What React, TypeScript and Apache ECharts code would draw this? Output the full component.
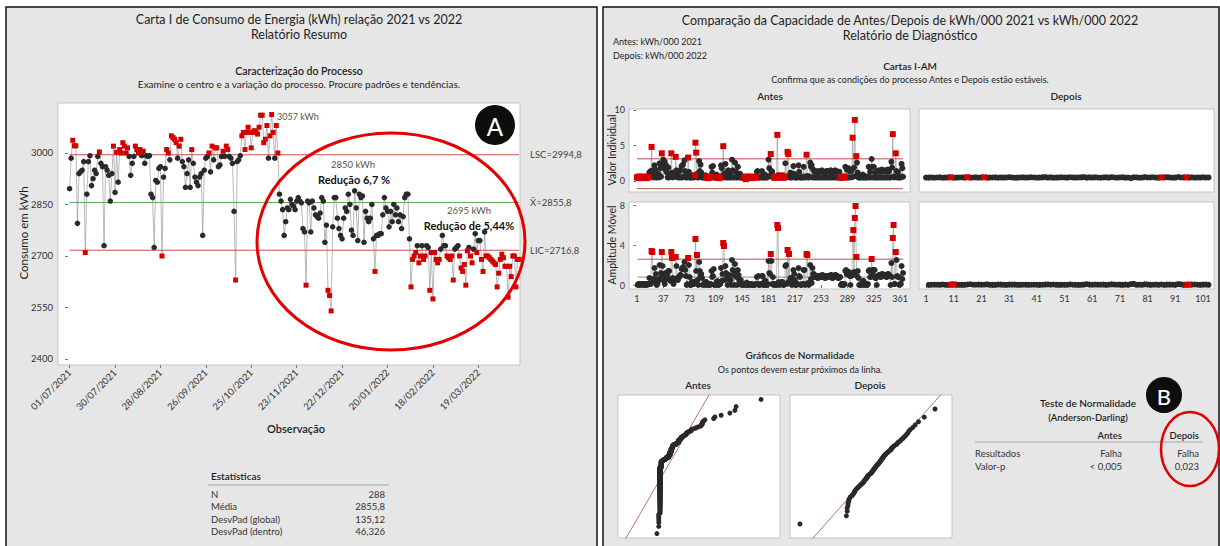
import React, { useEffect, useRef } from "react";
import * as echarts from "echarts";

const FONT = "Lato, 'Noto Sans', sans-serif";

// ---------- Left panel data ----------
const dateLabels = ["01/07/2021", "30/07/2021", "28/08/2021", "26/09/2021", "25/10/2021", "23/11/2021", "22/12/2021", "20/01/2022", "18/02/2022", "19/03/2022"];
const dateTickObs = [1, 30, 59, 88, 117, 146, 175, 204, 233, 262];
const yTicksConsumo = [2400, 2550, 2700, 2850, 3000];
const consumo = [
  2896, 2985, 3037, 3021, 3021, 2795, 2940, 2945, 2950, 2975, 2710, 2880, 2975, 2992, 2905, 2925, 2950, 2940, 2990, 3003, 2970, 2960, 2730, 2960, 2950, 2935, 2860, 2940, 3020,
  2885, 3002, 2915, 3010, 3000, 3030, 3020, 3000, 3015, 2990, 2935, 2970, 2990, 3020, 3010, 3000, 3010, 2992, 3005, 2970, 2992, 2990, 2992, 2880, 2870, 2725, 2920, 2915, 2955,
  2960, 2700, 2930, 2955, 3010, 3000, 2980, 3050, 3045, 3040, 3030, 2985, 3020, 3040, 2975, 2960, 2900, 2940, 2980, 2900, 3010, 2970, 2930, 2915, 2905, 2930, 2940, 2760, 2950,
  2985, 2990, 3000, 2945, 3020, 2980, 3015, 3015, 2960, 2965, 2990, 3005, 2990, 3020, 3010, 2990, 2985, 2970, 2830, 2630, 2975, 2980, 2992, 3050, 3060, 3010, 3060, 3075, 3060,
  3015, 3060, 3065, 3060, 3055, 3075, 3110, 3110, 3030, 3040, 3080, 2985, 3050, 3112, 3060, 2985, 3080, 3000, 2880, 2860, 2835, 2760, 2800, 2840, 2835, 2865, 2850, 2845, 2835,
  2860, 2870, 2860, 2855, 2780, 2770, 2615, 2860, 2855, 2770, 2860, 2840, 2820, 2815, 2810, 2825, 2870, 2860, 2740, 2790, 2600, 2585, 2540, 2785, 2870, 2870, 2810, 2780, 2760,
  2750, 2810, 2840, 2830, 2880, 2850, 2775, 2760, 2890, 2840, 2745, 2880, 2870, 2875, 2740, 2830, 2810, 2800, 2810, 2850, 2750, 2655, 2760, 2760, 2765, 2765, 2820, 2870, 2840,
  2830, 2785, 2830, 2800, 2850, 2820, 2840, 2800, 2820, 2780, 2815, 2870, 2880, 2880, 2750, 2610, 2690, 2700, 2710, 2730, 2680, 2700, 2730, 2690, 2700, 2730, 2725, 2600, 2710,
  2575, 2710, 2690, 2680, 2690, 2720, 2760, 2730, 2730, 2700, 2695, 2690, 2700, 2630, 2720, 2725, 2730, 2700, 2665, 2655, 2675, 2615, 2715, 2725, 2700, 2680, 2720, 2765, 2710,
  2745, 2745, 2690, 2655, 2770, 2700, 2700, 2695, 2690, 2685, 2680, 2675, 2610, 2650, 2690, 2705, 2695, 2670, 2670, 2580, 2670, 2640, 2700, 2700, 2610, 2690, 2690,
];
const LSC = 2994.8;
const CL = 2855.8;
const LIC = 2716.8;
const controlLabels = ["LSC=2994,8", "X\u0304=2855,8", "LIC=2716,8"];
const statsRows = [["N", "288"], ["Média", "2855,8"], ["DesvPad (global)", "135,12"], ["DesvPad (dentro)", "46,326"]];

// ---------- Right panel data ----------
const antesI = [
  0.5, 0.5, 0.6, 0.5, 0.5, 0.4, 0.5, 0.5, 0.6, 0.5, 0.5, 0.5, 0.4, 0.5, 0.5, 0.6, 0.5, 1.2, 1.3, 1.4,
  4.8, 1.5, 0.9, 0.5, 2.2, 1.6, 0.5, 0.5, 0.6, 1.0, 0.5, 2.5, 1.8, 0.6, 3.9, 2.0, 3.0, 2.6, 2.7, 1.5,
  2.2, 1.2, 0.5, 1.9, 0.5, 1.0, 0.6, 3.9, 1.2, 0.5, 0.6, 1.2, 0.6, 3.4, 1.5, 1.0, 0.5, 1.3, 0.5, 1.5,
  0.5, 2.1, 0.5, 2.3, 0.6, 2.9, 1.4, 0.5, 0.5, 0.6, 3.3, 1.3, 0.5, 0.5, 0.5, 0.8, 0.5, 0.6, 0.5, 0.8,
  5.4, 4.0, 1.0, 0.5, 0.5, 2.8, 1.4, 2.3, 1.2, 0.5, 0.5, 0.6, 0.5, 0.5, 0.8, 0.5, 0.5, 0.4, 0.5, 0.5,
  0.5, 0.6, 2.0, 1.2, 2.1, 0.5, 0.5, 0.5, 0.6, 0.9, 0.5, 0.5, 0.5, 0.4, 0.5, 2.2, 1.8, 0.7, 4.9, 1.0,
  0.5, 2.4, 1.2, 0.5, 0.5, 1.5, 0.5, 1.0, 0.5, 0.5, 3.0, 1.5, 0.5, 0.5, 2.6, 1.3, 0.5, 0.5, 2.0, 1.0,
  0.5, 1.0, 0.5, 0.5, 0.6, 0.5, 0.5, 0.5, 0.4, 0.25, 0.5, 0.5, 0.5, 0.6, 0.5, 0.5, 0.4, 0.5, 0.5, 0.5,
  0.5, 0.5, 0.6, 0.5, 1.3, 1.4, 0.5, 0.5, 0.5, 0.6, 0.5, 1.4, 0.5, 0.5, 0.5, 0.9, 0.5, 0.5, 0.5, 0.6,
  3.0, 1.8, 0.7, 3.8, 1.4, 1.3, 0.5, 0.5, 0.6, 0.5, 0.5, 0.5, 6.5, 0.8, 0.5, 0.5, 0.6, 0.5, 0.8, 0.5,
  0.5, 0.5, 0.6, 2.5, 0.5, 0.6, 4.1, 3.8, 0.7, 0.5, 1.2, 0.5, 0.5, 0.6, 2.1, 1.0, 0.5, 0.5, 0.5, 0.6,
  0.5, 2.2, 1.3, 0.5, 0.5, 0.5, 0.6, 0.5, 2.0, 0.5, 0.5, 0.6, 3.7, 0.7, 0.5, 0.5, 0.6, 2.6, 2.0, 2.2,
  0.5, 1.6, 0.5, 1.3, 0.5, 1.4, 0.5, 1.2, 0.5, 1.4, 0.5, 1.3, 0.5, 1.5, 0.5, 1.3, 0.5, 1.2, 0.5, 1.4,
  0.5, 1.4, 0.5, 1.3, 0.5, 1.5, 0.5, 1.2, 0.5, 1.3, 0.5, 1.5, 0.5, 1.4, 0.5, 1.2, 0.5, 1.3, 0.5, 0.5,
  0.6, 0.5, 0.5, 0.5, 0.6, 2.0, 0.5, 1.6, 0.5, 1.8, 0.5, 1.4, 1.4, 0.5, 1.5, 6.1, 0.6, 1.9, 8.6, 0.7,
  3.5, 2.6, 1.2, 0.5, 0.5, 0.5, 0.6, 0.5, 0.5, 0.9, 0.5, 0.5, 0.6, 0.5, 0.5, 0.5, 0.6, 2.0, 0.5, 1.3,
  0.5, 3.1, 2.0, 0.5, 2.0, 0.5, 1.2, 0.5, 0.5, 1.4, 0.5, 1.5, 0.5, 1.3, 0.5, 1.6, 0.5, 1.4, 0.5, 1.5,
  0.5, 1.3, 0.5, 1.6, 0.5, 1.4, 0.5, 0.5, 2.7, 1.9, 6.6, 0.6, 0.5, 0.6, 3.9, 1.4, 0.5, 1.3, 0.5, 0.5,
  0.6, 0.5, 2.4, 1.8, 0.6,
];
const antesFailRanges = [[1, 17], [80, 80], [96, 102], [111, 115], [147, 164], [188, 192], [198, 203], [279, 285]];
const antesLimitsI = { ucl: 3.12, cl: 1.02, lcl: -1.08 };
const antesLimitsMR = { ucl: 2.58, cl: 0.79 };
const depoisI = [
  0.487, 0.478, 0.502, 0.468, 0.493, 0.511, 0.461, 0.482, 0.498, 0.521,
  0.46, 0.472, 0.491, 0.505, 0.484, 0.532, 0.459, 0.489, 0.514, 0.47,
  0.5, 0.524, 0.462, 0.48, 0.494, 0.509, 0.466, 0.503, 0.486, 0.492,
  0.535, 0.497, 0.458, 0.474, 0.49, 0.516, 0.483, 0.501, 0.527, 0.495,
  0.469, 0.481, 0.506, 0.541, 0.488, 0.512, 0.461, 0.479, 0.499, 0.519,
  0.493, 0.473, 0.529, 0.504, 0.485, 0.496, 0.513, 0.552, 0.471, 0.507,
  0.482, 0.523, 0.49, 0.46, 0.5, 0.51, 0.477, 0.538, 0.494, 0.467,
  0.503, 0.518, 0.476, 0.492, 0.402, 0.515, 0.498, 0.465, 0.484, 0.545,
  0.489, 0.501, 0.526, 0.48, 0.459, 0.508, 0.495, 0.533, 0.497, 0.463,
  0.479, 0.565, 0.505, 0.491, 0.512, 0.475, 0.52, 0.468, 0.502, 0.488,
  0.53, 0.483, 0.499,
];
const depoisIFail = [10, 16, 22, 86, 95];
const depoisMRFail = [10, 11, 95, 96];
const antesTicks = [1, 37, 73, 109, 145, 181, 217, 253, 289, 325, 361];
const depoisTicks = [1, 11, 21, 31, 41, 51, 61, 71, 81, 91, 101];
const iTicks = [0, 5, 10];
const mrTicks = [0, 4, 8];
const adRows = [["Resultados", "Falha", "Falha"], ["Valor-p", "< 0,005", "0,023"]];

// ---------- helpers ----------
function invNorm(p: number) {
  const a = [-39.69683028665376, 220.9460984245205, -275.9285104469687, 138.357751867269, -30.66479806614716, 2.506628277459239];
  const b = [-54.47609879822406, 161.5858368580409, -155.6989798598866, 66.80131188771972, -13.28068155288572];
  const c = [-0.007784894002430293, -0.3223964580411365, -2.400758277161838, -2.549671607777327, 4.374664141464968, 2.938163982698783];
  const d = [0.007784695709041462, 0.3224671290700398, 2.445134137142996, 3.754408661907416];
  const pl = 0.02425;
  if (p < pl) {
    const q = Math.sqrt(-2 * Math.log(p));
    return (((((c[0] * q + c[1]) * q + c[2]) * q + c[3]) * q + c[4]) * q + c[5]) / ((((d[0] * q + d[1]) * q + d[2]) * q + d[3]) * q + 1);
  }
  if (p > 1 - pl) {
    const q = Math.sqrt(-2 * Math.log(1 - p));
    return -(((((c[0] * q + c[1]) * q + c[2]) * q + c[3]) * q + c[4]) * q + c[5]) / ((((d[0] * q + d[1]) * q + d[2]) * q + d[3]) * q + 1);
  }
  const q = p - 0.5;
  const r = q * q;
  return ((((((a[0] * r + a[1]) * r + a[2]) * r + a[3]) * r + a[4]) * r + a[5]) * q) / (((((b[0] * r + b[1]) * r + b[2]) * r + b[3]) * r + b[4]) * r + 1);
}

function normalPlot(vals: number[]) {
  const s = [...vals].sort((x, y) => x - y);
  const n = s.length;
  const pts = s.map((v, i) => [v, invNorm((i + 1 - 0.375) / (n + 0.25))]);
  const mean = s.reduce((acc, v) => acc + v, 0) / n;
  const sd = Math.sqrt(s.reduce((acc, v) => acc + (v - mean) ** 2, 0) / (n - 1));
  return { pts, line: [[mean - 4 * sd, -4], [mean + 4 * sd, 4]] };
}

const T = (text: string, x: number, y: number, size: number, o: any = {}) => ({
  type: "text",
  x,
  y,
  rotation: o.rot || 0,
  z: o.z || 50,
  silent: true,
  style: {
    text,
    fill: o.color || "#1f1f1f",
    font: `${o.weight || "normal"} ${size}px ${FONT}`,
    textAlign: o.align || "center",
    textVerticalAlign: "middle",
  },
});

function buildOption() {
  const gridBoxes = [
    { left: 58, top: 103, width: 462, height: 262 },
    { left: 629, top: 109, width: 281, height: 83 },
    { left: 919, top: 109, width: 295, height: 83 },
    { left: 629, top: 202, width: 281, height: 87 },
    { left: 919, top: 202, width: 295, height: 87 },
    { left: 618, top: 395, width: 162, height: 143 },
    { left: 790, top: 395, width: 162, height: 143 },
  ];
  const grid = gridBoxes.map((g) => ({
    ...g,
    show: true,
    backgroundColor: "#ffffff",
    borderColor: "#c4c4c4",
    borderWidth: 1,
    containLabel: false,
    outerBoundsMode: "none",
  }));

  const axisBase = (gridIndex: number, min: number, max: number) => ({
    gridIndex,
    type: "value",
    min,
    max,
    axisLine: { show: false },
    splitLine: { show: false },
    axisTick: { show: false },
    axisLabel: { show: false },
  });
  const plain = (v: number) => String(v);
  const labelled = (base: any, ticks: number[], extra: any = {}) => ({
    ...base,
    axisTick: { show: true, customValues: ticks, length: 3, lineStyle: { color: "#777" } },
    axisLabel: { show: true, customValues: ticks, fontSize: 9, color: "#333", fontFamily: FONT, formatter: plain, ...extra },
  });

  const xAxis = [
    labelled(axisBase(0, -6.4, 288.6), dateTickObs, {
      rotate: 45,
      margin: 6,
      fontSize: 9.5,
      formatter: (v: number) => {
        const i = dateTickObs.indexOf(Math.round(v));
        return i >= 0 ? dateLabels[i] : "";
      },
    }),
    axisBase(1, -9.9, 374.5),
    axisBase(2, -1.53, 104.97),
    labelled(axisBase(3, -9.9, 374.5), antesTicks, { margin: 5 }),
    labelled(axisBase(4, -1.53, 104.97), depoisTicks, { margin: 5 }),
    axisBase(5, -2.87, 10.12),
    axisBase(6, 0.39, 0.5855),
  ];
  const yAxis = [
    labelled(axisBase(0, 2382.5, 3145.6), yTicksConsumo, { margin: 5, fontSize: 9.5 }),
    labelled(axisBase(1, -1.55, 10.14), iTicks, { margin: 4 }),
    axisBase(2, -1.55, 10.14),
    labelled(axisBase(3, -0.4, 8.3), mrTicks, { margin: 4 }),
    axisBase(4, -0.4, 8.3),
    axisBase(5, -3.12, 3.12),
    axisBase(6, -3.12, 3.12),
  ];

  const RED = "#d40000";
  const DOT = "#2a2a2a";
  const series: any[] = [];
  const conn = (gi: number, pts: number[][]) =>
    series.push({ type: "line", xAxisIndex: gi, yAxisIndex: gi, data: pts, showSymbol: false, symbol: "none", lineStyle: { color: "#9b9b9b", width: 0.7 }, z: 2, silent: true });
  const ctrl = (gi: number, x0: number, x1: number, v: number, color: string, label?: string) =>
    series.push({
      type: "line",
      xAxisIndex: gi,
      yAxisIndex: gi,
      data: [[x0, v], [x1, v]],
      symbol: "none",
      lineStyle: { color, width: 1 },
      z: 3,
      silent: true,
      endLabel: label ? { show: true, formatter: label, distance: 11, color: "#444", fontSize: 9.5, fontFamily: FONT } : { show: false },
    });
  const pts = (gi: number, data: number[][], color: string, symbol: string, size: number) =>
    series.push({ type: "scatter", xAxisIndex: gi, yAxisIndex: gi, data, symbol, symbolSize: size, itemStyle: { color, opacity: 1 }, z: 5, silent: true });

  // Left I chart
  const cPts = consumo.map((v, i) => [i + 1, v]);
  const cOut = (v: number) => v > LSC || v < LIC;
  conn(0, cPts);
  ctrl(0, 1, consumo.length, LSC, "#c9504c", controlLabels[0]);
  ctrl(0, 1, consumo.length, CL, "#5fa862", controlLabels[1]);
  ctrl(0, 1, consumo.length, LIC, "#c9504c", controlLabels[2]);
  pts(0, cPts.filter((p) => !cOut(p[1])), DOT, "circle", 5.5);
  pts(0, cPts.filter((p) => cOut(p[1])), RED, "rect", 5);

  // Antes I
  const aPts = antesI.map((v, i) => [i + 1, v]);
  const inFail = (o: number) => antesFailRanges.some((r) => o >= r[0] && o <= r[1]);
  const aRed = (p: number[]) => p[1] > antesLimitsI.ucl || p[1] < antesLimitsI.lcl || inFail(p[0]);
  conn(1, aPts);
  ctrl(1, 1, antesI.length, antesLimitsI.ucl, "#b9524f");
  ctrl(1, 1, antesI.length, antesLimitsI.cl, "#5fa862");
  ctrl(1, 1, antesI.length, antesLimitsI.lcl, "#b9524f");
  pts(1, aPts.filter((p) => !aRed(p)), DOT, "circle", 6);
  pts(1, aPts.filter((p) => aRed(p)), RED, "rect", 6);

  // Depois I
  const dPts = depoisI.map((v, i) => [i + 1, v]);
  conn(2, dPts);
  pts(2, dPts.filter((p) => !depoisIFail.includes(p[0])), DOT, "circle", 6);
  pts(2, dPts.filter((p) => depoisIFail.includes(p[0])), RED, "rect", 6);

  // Antes MR
  const aMR = antesI.slice(1).map((v, i) => [i + 2, Math.abs(v - antesI[i])]);
  conn(3, aMR);
  ctrl(3, 2, antesI.length, antesLimitsMR.ucl, "#b9524f");
  ctrl(3, 2, antesI.length, antesLimitsMR.cl, "#5fa862");
  pts(3, aMR.filter((p) => p[1] <= antesLimitsMR.ucl), DOT, "circle", 6);
  pts(3, aMR.filter((p) => p[1] > antesLimitsMR.ucl), RED, "rect", 6);

  // Depois MR
  const dMR = depoisI.slice(1).map((v, i) => [i + 2, Math.abs(v - depoisI[i])]);
  conn(4, dMR);
  pts(4, dMR.filter((p) => !depoisMRFail.includes(p[0])), DOT, "circle", 6);
  pts(4, dMR.filter((p) => depoisMRFail.includes(p[0])), RED, "rect", 6);

  // Normal plots
  const nA = normalPlot(antesI);
  const nD = normalPlot(depoisI);
  series.push({ type: "line", xAxisIndex: 5, yAxisIndex: 5, data: nA.line, symbol: "none", lineStyle: { color: "#b8605c", width: 0.9 }, z: 3, silent: true });
  pts(5, nA.pts, DOT, "circle", 5);
  series.push({ type: "line", xAxisIndex: 6, yAxisIndex: 6, data: nD.line, symbol: "none", lineStyle: { color: "#b8605c", width: 0.9 }, z: 3, silent: true });
  pts(6, nD.pts, DOT, "circle", 5);

  // Graphic elements
  const els: any[] = [
    { type: "rect", z: -10, silent: true, shape: { x: 6, y: 7, width: 591, height: 560 }, style: { fill: "#e6e6e6", stroke: "#111", lineWidth: 1.5 } },
    { type: "rect", z: -10, silent: true, shape: { x: 603, y: 7, width: 616, height: 560 }, style: { fill: "#e6e6e6", stroke: "#111", lineWidth: 1.5 } },
    // left texts
    T("Carta I de Consumo de Energia (kWh) relação 2021 vs 2022", 299, 19, 12.5),
    T("Relatório Resumo", 299, 34, 12.5),
    T("Caracterização do Processo", 299, 71, 10.5, { weight: 600 }),
    T("Examine o centro e a variação do processo. Procure padrões e tendências.", 299, 84, 10),
    T("Consumo em kWh", 23, 233, 11.5, { rot: Math.PI / 2 }),
    T("3057 kWh", 277, 116, 9, { align: "left", color: "#555" }),
    T("2850 kWh", 353, 164, 9.5, { color: "#555" }),
    T("Redução 6,7 %", 354, 179, 11, { weight: "bold", color: "#111" }),
    T("2695 kWh", 469, 210, 9.5, { color: "#555" }),
    T("Redução de 5,44%", 469, 225, 11, { weight: "bold", color: "#111" }),
    T("Observação", 296, 428, 11, { weight: 600 }),
    T("Estatísticas", 211, 476, 10, { align: "left", weight: 600 }),
    { type: "line", z: 50, silent: true, shape: { x1: 208, y1: 485, x2: 389, y2: 485 }, style: { stroke: "#bbb", lineWidth: 1.5 } },
    { type: "ellipse", z: 60, silent: true, shape: { cx: 391, cy: 241.5, rx: 134, ry: 108.5 }, style: { fill: "none", stroke: "#e30000", lineWidth: 3 } },
    { type: "circle", z: 60, silent: true, shape: { cx: 495, cy: 125, r: 20 }, style: { fill: "#0d0d0d" } },
    T("A", 495, 126, 24, { color: "#fff", weight: 500, z: 70 }),
    // right texts
    T("Comparação da Capacidade de Antes/Depois de kWh/000 2021 vs kWh/000 2022", 910, 20, 12.5),
    T("Relatório de Diagnóstico", 910, 35, 12.5),
    T("Antes: kWh/000 2021", 613, 41, 9, { align: "left" }),
    T("Depois: kWh/000 2022", 613, 55, 9, { align: "left" }),
    T("Cartas I-AM", 910, 66, 10, { weight: 600 }),
    T("Confirma que as condições do processo Antes e Depois estão estáveis.", 910, 79, 9),
    T("Antes", 770, 96, 10, { weight: 600 }),
    T("Depois", 1066, 96, 10, { weight: 600 }),
    T("Valor Individual", 612, 150, 10.5, { rot: Math.PI / 2 }),
    T("Amplitude Móvel", 612, 245, 10.5, { rot: Math.PI / 2 }),
    T("Gráficos de Normalidade", 800, 355, 10, { weight: 600 }),
    T("Os pontos devem estar próximos da linha.", 800, 369, 9),
    T("Antes", 698, 385, 10, { weight: 600 }),
    T("Depois", 870, 385, 10, { weight: 600 }),
    T("Teste de Normalidade", 1088, 403, 10, { weight: 600 }),
    T("(Anderson-Darling)", 1088, 417, 9.5, { weight: 600 }),
    T("Antes", 1122, 435, 9.5, { weight: 600, align: "right" }),
    T("Depois", 1199, 435, 9.5, { weight: 600, align: "right" }),
    { type: "line", z: 50, silent: true, shape: { x1: 975, y1: 442, x2: 1203, y2: 442 }, style: { stroke: "#bbb", lineWidth: 1.5 } },
    { type: "circle", z: 60, silent: true, shape: { cx: 1164, cy: 395, r: 18 }, style: { fill: "#0d0d0d" } },
    T("B", 1164, 396, 22, { color: "#fff", weight: 500, z: 70 }),
    { type: "ellipse", z: 60, silent: true, shape: { cx: 1190, cy: 449, rx: 29, ry: 37 }, style: { fill: "none", stroke: "#e30000", lineWidth: 2.5 } },
  ];
  statsRows.forEach((r, i) => {
    const y = 494 + i * 12.6;
    els.push(T(r[0], 211, y, 9.5, { align: "left", color: "#333" }));
    els.push(T(r[1], 385, y, 9.5, { align: "right", color: "#333" }));
  });
  adRows.forEach((r, i) => {
    const y = 453 + i * 13;
    els.push(T(r[0], 975, y, 9.5, { align: "left", color: "#333" }));
    els.push(T(r[1], 1122, y, 9.5, { align: "right", color: "#333" }));
    els.push(T(r[2], 1199, y, 9.5, { align: "right", color: "#333" }));
  });

  return {
    animation: false,
    backgroundColor: "#ffffff",
    textStyle: { fontFamily: FONT },
    grid,
    xAxis,
    yAxis,
    series,
    graphic: { elements: els },
  };
}

export default function App() {
  const ref = useRef<HTMLDivElement>(null);
  useEffect(() => {
    document.body.style.margin = "0";
    const chart = echarts.init(ref.current as HTMLDivElement, null, { renderer: "svg" });
    chart.setOption(buildOption() as any);
    return () => chart.dispose();
  }, []);
  return <div ref={ref} style={{ position: "absolute", left: 0, top: 0, width: 1220, height: 546 }} />;
}
